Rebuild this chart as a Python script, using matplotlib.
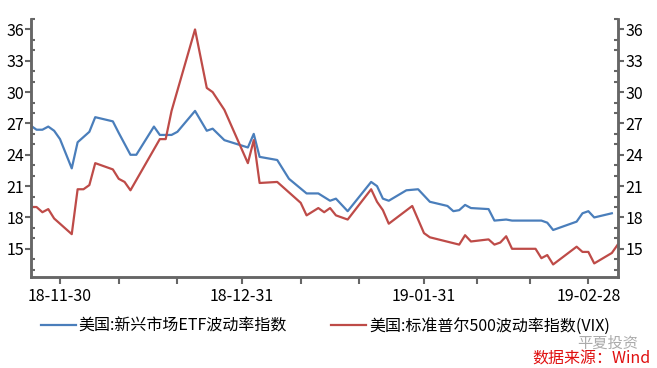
"""
新兴市场ETF波动率指数 vs 标普500波动率指数(VIX)
"""
import matplotlib.pyplot as plt
import matplotlib.dates as mdates
import pandas as pd

plt.rcParams['font.family'] = ['Noto Sans CJK SC', 'DejaVu Sans']

# 美国:新兴市场ETF波动率指数
etf_dates = ['2018-11-25', '2018-11-26', '2018-11-27', '2018-11-28', '2018-11-29', '2018-11-30',
             '2018-12-02', '2018-12-03', '2018-12-04', '2018-12-05', '2018-12-06', '2018-12-09',
             '2018-12-10', '2018-12-12', '2018-12-13', '2018-12-16', '2018-12-17', '2018-12-19',
             '2018-12-20', '2018-12-23', '2018-12-25', '2018-12-26', '2018-12-28', '2019-01-01',
             '2019-01-02', '2019-01-03', '2019-01-06', '2019-01-08', '2019-01-11', '2019-01-13',
             '2019-01-15', '2019-01-16', '2019-01-18', '2019-01-22', '2019-01-23', '2019-01-24',
             '2019-01-25', '2019-01-28', '2019-01-30', '2019-02-01', '2019-02-04', '2019-02-05',
             '2019-02-06', '2019-02-07', '2019-02-08', '2019-02-11', '2019-02-12', '2019-02-14',
             '2019-02-15', '2019-02-20', '2019-02-21', '2019-02-22', '2019-02-26', '2019-02-27',
             '2019-02-28', '2019-03-01', '2019-03-04']
etf_values = [26.8, 26.4, 26.4, 26.7, 26.3, 25.5,
              22.7, 25.2, 25.7, 26.2, 27.6, 27.2,
              26.1, 24.0, 24.0, 26.7, 25.9, 25.9,
              26.2, 28.2, 26.3, 26.5, 25.4, 24.7,
              26.0, 23.8, 23.5, 21.7, 20.3, 20.3,
              19.6, 19.8, 18.6, 21.4, 21.0, 19.8,
              19.6, 20.6, 20.7, 19.5, 19.1, 18.6,
              18.7, 19.2, 18.9, 18.8, 17.7, 17.8,
              17.7, 17.7, 17.5, 16.8, 17.6, 18.4,
              18.6, 18.0, 18.4]

# 美国:标准普尔500波动率指数(VIX)
vix_dates = ['2018-11-25', '2018-11-26', '2018-11-27', '2018-11-28', '2018-11-29', '2018-12-02',
             '2018-12-03', '2018-12-04', '2018-12-05', '2018-12-06', '2018-12-09', '2018-12-10',
             '2018-12-11', '2018-12-12', '2018-12-17', '2018-12-18', '2018-12-19', '2018-12-23',
             '2018-12-25', '2018-12-26', '2018-12-28', '2019-01-01', '2019-01-02', '2019-01-03',
             '2019-01-06', '2019-01-08', '2019-01-10', '2019-01-11', '2019-01-13', '2019-01-14',
             '2019-01-15', '2019-01-16', '2019-01-18', '2019-01-22', '2019-01-23', '2019-01-24',
             '2019-01-25', '2019-01-29', '2019-01-31', '2019-02-01', '2019-02-06', '2019-02-07',
             '2019-02-08', '2019-02-11', '2019-02-12', '2019-02-13', '2019-02-14', '2019-02-15',
             '2019-02-19', '2019-02-20', '2019-02-21', '2019-02-22', '2019-02-26', '2019-02-27',
             '2019-02-28', '2019-03-01', '2019-03-04', '2019-03-05']
vix_values = [19.0, 19.0, 18.5, 18.8, 17.9, 16.4,
              20.7, 20.7, 21.1, 23.2, 22.6, 21.7,
              21.4, 20.6, 25.5, 25.5, 28.2, 36.0,
              30.4, 30.0, 28.3, 23.2, 25.4, 21.3,
              21.4, 20.4, 19.4, 18.2, 18.9, 18.5,
              18.9, 18.2, 17.8, 20.7, 19.5, 18.7,
              17.4, 19.1, 16.5, 16.1, 15.4, 16.3,
              15.7, 15.9, 15.4, 15.6, 16.2, 15.0,
              15.0, 14.1, 14.4, 13.5, 15.2, 14.7,
              14.7, 13.6, 14.6, 15.4]

# 坐标轴刻度
major_dates = ['2018-11-30', '2018-12-31', '2019-01-31', '2019-02-28']
minor_dates = ['2018-12-10', '2018-12-20', '2019-01-10', '2019-01-20', '2019-02-09', '2019-02-18']
y_ticks = [15, 18, 21, 24, 27, 30, 33, 36]

blue = '#4a7ebb'
red = '#be4b48'
grey = '#666666'

fig = plt.figure(figsize=(6.57, 3.68), dpi=100)
ax = fig.add_axes([0.0472, 0.2473, 0.8939, 0.7011])

l1, = ax.plot(pd.to_datetime(etf_dates), etf_values, color=blue, lw=1.6,
              label='美国:新兴市场ETF波动率指数')
l2, = ax.plot(pd.to_datetime(vix_dates), vix_values, color=red, lw=1.6,
              label='美国:标准普尔500波动率指数(VIX)')

base = pd.Timestamp('2018-11-30')
ax.set_xlim(base - pd.Timedelta(days=4.94), base + pd.Timedelta(days=95.1))
ax.set_ylim(12.3, 37)

# x轴
ax.set_xticks(pd.to_datetime(major_dates))
ax.xaxis.set_major_formatter(mdates.DateFormatter('%y-%m-%d'))
ax.set_xticks(pd.to_datetime(minor_dates), minor=True)
ax.tick_params(axis='x', which='both', direction='out', length=5, width=1.5,
               color=grey, labelsize=11.5, pad=3)

# 左右两个y轴，刻度相同
ax2 = ax.twinx()
ax2.set_ylim(ax.get_ylim())
for a in (ax, ax2):
    a.set_yticks(y_ticks)
    a.set_yticks(range(13, 38), minor=True)
    a.tick_params(axis='y', which='major', direction='out', length=4, width=1.5,
                  color=grey, labelsize=11.5, pad=1)
    a.tick_params(axis='y', which='minor', direction='in', length=3, width=1.5, color=grey)
    a.spines['top'].set_visible(False)
    for s in ('left', 'right', 'bottom'):
        a.spines[s].set_color(grey)
        a.spines[s].set_linewidth(1.8)

fig.legend(handles=[l1, l2], loc='center', bbox_to_anchor=(0.495, 0.114), ncol=2,
           frameon=False, fontsize=11.5, handlelength=2.2, handletextpad=0.15,
           columnspacing=2.8)

# 水印和数据来源
fig.text(0.878, 0.068, '平夏投资', color='#ababab', fontsize=11, ha='left', va='center')
fig.text(0.99, 0.025, '数据来源：Wind', color='#e01010', fontsize=11.5, style='italic',
         ha='right', va='center')

fig.savefig('out.png', dpi=100)
